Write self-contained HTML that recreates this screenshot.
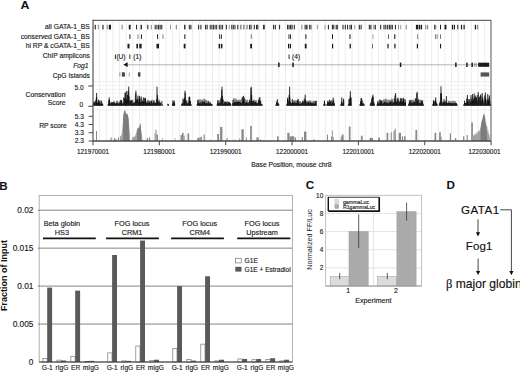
<!DOCTYPE html>
<html><head><meta charset="utf-8"><style>
html,body{margin:0;padding:0;background:#fff;}
body{width:520px;height:372px;overflow:hidden;}
svg{display:block;font-family:"Liberation Sans",sans-serif;}
</style></head><body>
<svg width="520" height="372" viewBox="0 0 520 372" font-family="Liberation Sans, sans-serif">
<rect width="520" height="372" fill="#fff"/>
<text x="20.6" y="9.3" font-size="11.8" text-anchor="start" fill="#111" font-weight="bold" transform="translate(-1.0,0) scale(1.05,1)">A</text>
<line x1="99.64" y1="20.3" x2="99.64" y2="141.3" stroke="#ededed" stroke-width="1.0"/>
<line x1="106.28" y1="20.3" x2="106.28" y2="141.3" stroke="#ededed" stroke-width="1.0"/>
<line x1="112.92" y1="20.3" x2="112.92" y2="141.3" stroke="#ededed" stroke-width="1.0"/>
<line x1="119.56" y1="20.3" x2="119.56" y2="141.3" stroke="#ededed" stroke-width="1.0"/>
<line x1="126.20" y1="20.3" x2="126.20" y2="141.3" stroke="#ededed" stroke-width="1.0"/>
<line x1="132.84" y1="20.3" x2="132.84" y2="141.3" stroke="#ededed" stroke-width="1.0"/>
<line x1="139.48" y1="20.3" x2="139.48" y2="141.3" stroke="#ededed" stroke-width="1.0"/>
<line x1="146.12" y1="20.3" x2="146.12" y2="141.3" stroke="#ededed" stroke-width="1.0"/>
<line x1="152.76" y1="20.3" x2="152.76" y2="141.3" stroke="#ededed" stroke-width="1.0"/>
<line x1="159.40" y1="20.3" x2="159.40" y2="141.3" stroke="#ededed" stroke-width="1.0"/>
<line x1="166.04" y1="20.3" x2="166.04" y2="141.3" stroke="#ededed" stroke-width="1.0"/>
<line x1="172.68" y1="20.3" x2="172.68" y2="141.3" stroke="#ededed" stroke-width="1.0"/>
<line x1="179.32" y1="20.3" x2="179.32" y2="141.3" stroke="#ededed" stroke-width="1.0"/>
<line x1="185.96" y1="20.3" x2="185.96" y2="141.3" stroke="#ededed" stroke-width="1.0"/>
<line x1="192.60" y1="20.3" x2="192.60" y2="141.3" stroke="#ededed" stroke-width="1.0"/>
<line x1="199.24" y1="20.3" x2="199.24" y2="141.3" stroke="#ededed" stroke-width="1.0"/>
<line x1="205.88" y1="20.3" x2="205.88" y2="141.3" stroke="#ededed" stroke-width="1.0"/>
<line x1="212.52" y1="20.3" x2="212.52" y2="141.3" stroke="#ededed" stroke-width="1.0"/>
<line x1="219.16" y1="20.3" x2="219.16" y2="141.3" stroke="#ededed" stroke-width="1.0"/>
<line x1="225.80" y1="20.3" x2="225.80" y2="141.3" stroke="#ededed" stroke-width="1.0"/>
<line x1="232.44" y1="20.3" x2="232.44" y2="141.3" stroke="#ededed" stroke-width="1.0"/>
<line x1="239.08" y1="20.3" x2="239.08" y2="141.3" stroke="#ededed" stroke-width="1.0"/>
<line x1="245.72" y1="20.3" x2="245.72" y2="141.3" stroke="#ededed" stroke-width="1.0"/>
<line x1="252.36" y1="20.3" x2="252.36" y2="141.3" stroke="#ededed" stroke-width="1.0"/>
<line x1="259.00" y1="20.3" x2="259.00" y2="141.3" stroke="#ededed" stroke-width="1.0"/>
<line x1="265.64" y1="20.3" x2="265.64" y2="141.3" stroke="#ededed" stroke-width="1.0"/>
<line x1="272.28" y1="20.3" x2="272.28" y2="141.3" stroke="#ededed" stroke-width="1.0"/>
<line x1="278.92" y1="20.3" x2="278.92" y2="141.3" stroke="#ededed" stroke-width="1.0"/>
<line x1="285.56" y1="20.3" x2="285.56" y2="141.3" stroke="#ededed" stroke-width="1.0"/>
<line x1="292.20" y1="20.3" x2="292.20" y2="141.3" stroke="#ededed" stroke-width="1.0"/>
<line x1="298.84" y1="20.3" x2="298.84" y2="141.3" stroke="#ededed" stroke-width="1.0"/>
<line x1="305.48" y1="20.3" x2="305.48" y2="141.3" stroke="#ededed" stroke-width="1.0"/>
<line x1="312.12" y1="20.3" x2="312.12" y2="141.3" stroke="#ededed" stroke-width="1.0"/>
<line x1="318.76" y1="20.3" x2="318.76" y2="141.3" stroke="#ededed" stroke-width="1.0"/>
<line x1="325.40" y1="20.3" x2="325.40" y2="141.3" stroke="#ededed" stroke-width="1.0"/>
<line x1="332.04" y1="20.3" x2="332.04" y2="141.3" stroke="#ededed" stroke-width="1.0"/>
<line x1="338.68" y1="20.3" x2="338.68" y2="141.3" stroke="#ededed" stroke-width="1.0"/>
<line x1="345.32" y1="20.3" x2="345.32" y2="141.3" stroke="#ededed" stroke-width="1.0"/>
<line x1="351.96" y1="20.3" x2="351.96" y2="141.3" stroke="#ededed" stroke-width="1.0"/>
<line x1="358.60" y1="20.3" x2="358.60" y2="141.3" stroke="#ededed" stroke-width="1.0"/>
<line x1="365.24" y1="20.3" x2="365.24" y2="141.3" stroke="#ededed" stroke-width="1.0"/>
<line x1="371.88" y1="20.3" x2="371.88" y2="141.3" stroke="#ededed" stroke-width="1.0"/>
<line x1="378.52" y1="20.3" x2="378.52" y2="141.3" stroke="#ededed" stroke-width="1.0"/>
<line x1="385.16" y1="20.3" x2="385.16" y2="141.3" stroke="#ededed" stroke-width="1.0"/>
<line x1="391.80" y1="20.3" x2="391.80" y2="141.3" stroke="#ededed" stroke-width="1.0"/>
<line x1="398.44" y1="20.3" x2="398.44" y2="141.3" stroke="#ededed" stroke-width="1.0"/>
<line x1="405.08" y1="20.3" x2="405.08" y2="141.3" stroke="#ededed" stroke-width="1.0"/>
<line x1="411.72" y1="20.3" x2="411.72" y2="141.3" stroke="#ededed" stroke-width="1.0"/>
<line x1="418.36" y1="20.3" x2="418.36" y2="141.3" stroke="#ededed" stroke-width="1.0"/>
<line x1="425.00" y1="20.3" x2="425.00" y2="141.3" stroke="#ededed" stroke-width="1.0"/>
<line x1="431.64" y1="20.3" x2="431.64" y2="141.3" stroke="#ededed" stroke-width="1.0"/>
<line x1="438.28" y1="20.3" x2="438.28" y2="141.3" stroke="#ededed" stroke-width="1.0"/>
<line x1="444.92" y1="20.3" x2="444.92" y2="141.3" stroke="#ededed" stroke-width="1.0"/>
<line x1="451.56" y1="20.3" x2="451.56" y2="141.3" stroke="#ededed" stroke-width="1.0"/>
<line x1="458.20" y1="20.3" x2="458.20" y2="141.3" stroke="#ededed" stroke-width="1.0"/>
<line x1="464.84" y1="20.3" x2="464.84" y2="141.3" stroke="#ededed" stroke-width="1.0"/>
<line x1="471.48" y1="20.3" x2="471.48" y2="141.3" stroke="#ededed" stroke-width="1.0"/>
<line x1="478.12" y1="20.3" x2="478.12" y2="141.3" stroke="#ededed" stroke-width="1.0"/>
<line x1="484.76" y1="20.3" x2="484.76" y2="141.3" stroke="#ededed" stroke-width="1.0"/>
<line x1="93.0" y1="85.5" x2="491.0" y2="85.5" stroke="#efefef" stroke-width="0.8"/>
<line x1="93.0" y1="89.4" x2="491.0" y2="89.4" stroke="#efefef" stroke-width="0.8"/>
<line x1="93.0" y1="93.3" x2="491.0" y2="93.3" stroke="#efefef" stroke-width="0.8"/>
<line x1="93.0" y1="97.2" x2="491.0" y2="97.2" stroke="#efefef" stroke-width="0.8"/>
<line x1="93.0" y1="101.1" x2="491.0" y2="101.1" stroke="#efefef" stroke-width="0.8"/>
<line x1="93.0" y1="81.6" x2="491.0" y2="81.6" stroke="#e8e8e8" stroke-width="0.8"/>
<line x1="93.0" y1="110" x2="491.0" y2="110" stroke="#e8e8e8" stroke-width="0.7"/>
<text x="89.8" y="28.8" font-size="6.75" text-anchor="end" fill="#222" stroke="#222" stroke-width="0.15" >all GATA-1_BS</text>
<text x="89.8" y="38.6" font-size="6.75" text-anchor="end" fill="#222" stroke="#222" stroke-width="0.15" >conserved GATA-1_BS</text>
<text x="89.8" y="48.4" font-size="6.75" text-anchor="end" fill="#222" stroke="#222" stroke-width="0.15" >hi RP &amp; cGATA-1_BS</text>
<text x="89.8" y="58.1" font-size="6.75" text-anchor="end" fill="#222" stroke="#222" stroke-width="0.15" >ChIP amplicons</text>
<text x="88.6" y="67.9" font-size="6.75" text-anchor="end" fill="#222" font-style="italic" stroke="#222" stroke-width="0.15" >Fog1</text>
<text x="89.8" y="77.5" font-size="6.75" text-anchor="end" fill="#222" stroke="#222" stroke-width="0.15" >CpG Islands</text>
<text x="65.4" y="96.8" font-size="6.75" text-anchor="end" fill="#222" stroke="#222" stroke-width="0.15" >Conservation</text>
<text x="65.4" y="104.6" font-size="6.75" text-anchor="end" fill="#222" stroke="#222" stroke-width="0.15" >Score</text>
<text x="66.8" y="128.3" font-size="6.75" text-anchor="end" fill="#222" stroke="#222" stroke-width="0.15" >RP score</text>
<text x="83.6" y="89.6" font-size="6.6" text-anchor="end" fill="#222" stroke="#222" stroke-width="0.15" >5.0</text>
<text x="83.2" y="106.9" font-size="6.6" text-anchor="end" fill="#222" stroke="#222" stroke-width="0.15" >0</text>
<text x="84.0" y="119.0" font-size="6.6" text-anchor="end" fill="#222" stroke="#222" stroke-width="0.15" >5.3</text>
<text x="84.0" y="127.0" font-size="6.6" text-anchor="end" fill="#222" stroke="#222" stroke-width="0.15" >4.3</text>
<text x="84.0" y="135.1" font-size="6.6" text-anchor="end" fill="#222" stroke="#222" stroke-width="0.15" >3.3</text>
<text x="84.0" y="143.2" font-size="6.6" text-anchor="end" fill="#222" stroke="#222" stroke-width="0.15" >2.3</text>
<line x1="88.2" y1="86.0" x2="93.0" y2="86.0" stroke="#333" stroke-width="0.9"/>
<line x1="88.2" y1="106.3" x2="93.0" y2="106.3" stroke="#333" stroke-width="0.9"/>
<line x1="88.6" y1="116.3" x2="93.0" y2="116.3" stroke="#333" stroke-width="0.9"/>
<line x1="88.6" y1="124.5" x2="93.0" y2="124.5" stroke="#333" stroke-width="0.9"/>
<line x1="88.6" y1="132.7" x2="93.0" y2="132.7" stroke="#333" stroke-width="0.9"/>
<line x1="88.6" y1="141.0" x2="93.0" y2="141.0" stroke="#333" stroke-width="0.9"/>
<rect x="94.70" y="24.8" width="1.1" height="4.60" fill="#1a1a1a" fill-opacity="1"/>
<rect x="97.80" y="24.8" width="0.9" height="4.60" fill="#1a1a1a" fill-opacity="0.55"/>
<rect x="102.40" y="24.8" width="1.1" height="4.60" fill="#1a1a1a" fill-opacity="1"/>
<rect x="106.80" y="24.8" width="0.9" height="4.60" fill="#1a1a1a" fill-opacity="0.55"/>
<rect x="108.80" y="24.8" width="2.2" height="4.60" fill="#1a1a1a" fill-opacity="1"/>
<rect x="121.60" y="24.8" width="1" height="4.60" fill="#1a1a1a" fill-opacity="0.6"/>
<rect x="128.80" y="24.8" width="1.8" height="4.60" fill="#1a1a1a" fill-opacity="1"/>
<rect x="136.10" y="24.8" width="1.0" height="4.60" fill="#1a1a1a" fill-opacity="1"/>
<rect x="140.60" y="24.8" width="1.3" height="4.60" fill="#1a1a1a" fill-opacity="1"/>
<rect x="147.30" y="24.8" width="1.0" height="4.60" fill="#1a1a1a" fill-opacity="1"/>
<rect x="150.80" y="24.8" width="0.9" height="4.60" fill="#1a1a1a" fill-opacity="0.6"/>
<rect x="154.70" y="24.8" width="1.0" height="4.60" fill="#1a1a1a" fill-opacity="1"/>
<rect x="156.40" y="24.8" width="1.1" height="4.60" fill="#1a1a1a" fill-opacity="0.9"/>
<rect x="158.00" y="24.8" width="1.1" height="4.60" fill="#1a1a1a" fill-opacity="0.9"/>
<rect x="159.60" y="24.8" width="1.1" height="4.60" fill="#1a1a1a" fill-opacity="0.9"/>
<rect x="161.20" y="24.8" width="1.1" height="4.60" fill="#1a1a1a" fill-opacity="0.9"/>
<rect x="170.10" y="24.8" width="0.9" height="4.60" fill="#1a1a1a" fill-opacity="0.5"/>
<rect x="175.80" y="24.8" width="1.0" height="4.60" fill="#1a1a1a" fill-opacity="0.6"/>
<rect x="184.10" y="24.8" width="1.3" height="4.60" fill="#1a1a1a" fill-opacity="1"/>
<rect x="188.80" y="24.8" width="1.0" height="4.60" fill="#1a1a1a" fill-opacity="1"/>
<rect x="190.40" y="24.8" width="1.0" height="4.60" fill="#1a1a1a" fill-opacity="1"/>
<rect x="198.10" y="24.8" width="1.0" height="4.60" fill="#1a1a1a" fill-opacity="1"/>
<rect x="200.40" y="24.8" width="1.0" height="4.60" fill="#1a1a1a" fill-opacity="1"/>
<rect x="205.00" y="24.8" width="1.1" height="4.60" fill="#1a1a1a" fill-opacity="0.9"/>
<rect x="206.60" y="24.8" width="1.1" height="4.60" fill="#1a1a1a" fill-opacity="0.9"/>
<rect x="209.70" y="24.8" width="1.1" height="4.60" fill="#1a1a1a" fill-opacity="0.85"/>
<rect x="211.30" y="24.8" width="1.1" height="4.60" fill="#1a1a1a" fill-opacity="0.85"/>
<rect x="212.90" y="24.8" width="1.1" height="4.60" fill="#1a1a1a" fill-opacity="0.85"/>
<rect x="214.50" y="24.8" width="1.1" height="4.60" fill="#1a1a1a" fill-opacity="0.85"/>
<rect x="216.10" y="24.8" width="1.1" height="4.60" fill="#1a1a1a" fill-opacity="0.85"/>
<rect x="218.80" y="24.8" width="1.1" height="4.60" fill="#1a1a1a" fill-opacity="0.85"/>
<rect x="220.40" y="24.8" width="1.1" height="4.60" fill="#1a1a1a" fill-opacity="0.85"/>
<rect x="222.00" y="24.8" width="1.1" height="4.60" fill="#1a1a1a" fill-opacity="0.85"/>
<rect x="225.80" y="24.8" width="1.0" height="4.60" fill="#1a1a1a" fill-opacity="1"/>
<rect x="228.80" y="24.8" width="0.9" height="4.60" fill="#1a1a1a" fill-opacity="0.5"/>
<rect x="231.20" y="24.8" width="1.1" height="4.60" fill="#1a1a1a" fill-opacity="0.85"/>
<rect x="232.80" y="24.8" width="1.1" height="4.60" fill="#1a1a1a" fill-opacity="0.85"/>
<rect x="234.40" y="24.8" width="1.1" height="4.60" fill="#1a1a1a" fill-opacity="0.85"/>
<rect x="237.30" y="24.8" width="1.0" height="4.60" fill="#1a1a1a" fill-opacity="1"/>
<rect x="240.40" y="24.8" width="1.0" height="4.60" fill="#1a1a1a" fill-opacity="0.8"/>
<rect x="243.40" y="24.8" width="1.0" height="4.60" fill="#1a1a1a" fill-opacity="0.8"/>
<rect x="246.50" y="24.8" width="1.0" height="4.60" fill="#1a1a1a" fill-opacity="0.7"/>
<rect x="248.90" y="24.8" width="1.0" height="4.60" fill="#1a1a1a" fill-opacity="0.6"/>
<rect x="249.30" y="24.8" width="1.0" height="4.60" fill="#1a1a1a" fill-opacity="0.9"/>
<rect x="250.60" y="24.8" width="1.0" height="4.60" fill="#1a1a1a" fill-opacity="0.9"/>
<rect x="253.80" y="24.8" width="1.0" height="4.60" fill="#1a1a1a" fill-opacity="1"/>
<rect x="256.10" y="24.8" width="1.0" height="4.60" fill="#1a1a1a" fill-opacity="1"/>
<rect x="257.30" y="24.8" width="1.0" height="4.60" fill="#1a1a1a" fill-opacity="1"/>
<rect x="263.10" y="24.8" width="1.6" height="4.60" fill="#1a1a1a" fill-opacity="1"/>
<rect x="273.10" y="24.8" width="1.0" height="4.60" fill="#1a1a1a" fill-opacity="1"/>
<rect x="274.80" y="24.8" width="1.0" height="4.60" fill="#1a1a1a" fill-opacity="1"/>
<rect x="279.10" y="24.8" width="1.0" height="4.60" fill="#1a1a1a" fill-opacity="1"/>
<rect x="287.00" y="24.8" width="1.1" height="4.60" fill="#1a1a1a" fill-opacity="0.9"/>
<rect x="288.50" y="24.8" width="1.1" height="4.60" fill="#1a1a1a" fill-opacity="0.9"/>
<rect x="290.00" y="24.8" width="1.1" height="4.60" fill="#1a1a1a" fill-opacity="0.9"/>
<rect x="291.50" y="24.8" width="1.1" height="4.60" fill="#1a1a1a" fill-opacity="0.9"/>
<rect x="293.80" y="24.8" width="1.0" height="4.60" fill="#1a1a1a" fill-opacity="1"/>
<rect x="301.40" y="24.8" width="1.0" height="4.60" fill="#1a1a1a" fill-opacity="0.6"/>
<rect x="304.60" y="24.8" width="1.0" height="4.60" fill="#1a1a1a" fill-opacity="1"/>
<rect x="306.20" y="24.8" width="1.3" height="4.60" fill="#1a1a1a" fill-opacity="1"/>
<rect x="309.20" y="24.8" width="1.0" height="4.60" fill="#1a1a1a" fill-opacity="1"/>
<rect x="310.60" y="24.8" width="0.8" height="4.60" fill="#1a1a1a" fill-opacity="1"/>
<rect x="316.80" y="24.8" width="1.0" height="4.60" fill="#1a1a1a" fill-opacity="0.45"/>
<rect x="324.50" y="24.8" width="1.0" height="4.60" fill="#1a1a1a" fill-opacity="0.45"/>
<rect x="327.90" y="24.8" width="1.0" height="4.60" fill="#1a1a1a" fill-opacity="1"/>
<rect x="331.90" y="24.8" width="1.0" height="4.60" fill="#1a1a1a" fill-opacity="1"/>
<rect x="333.30" y="24.8" width="1.0" height="4.60" fill="#1a1a1a" fill-opacity="1"/>
<rect x="335.70" y="24.8" width="1.0" height="4.60" fill="#1a1a1a" fill-opacity="1"/>
<rect x="337.20" y="24.8" width="0.8" height="4.60" fill="#1a1a1a" fill-opacity="1"/>
<rect x="342.50" y="24.8" width="1.0" height="4.60" fill="#1a1a1a" fill-opacity="1"/>
<rect x="344.80" y="24.8" width="1.0" height="4.60" fill="#1a1a1a" fill-opacity="1"/>
<rect x="347.10" y="24.8" width="1.0" height="4.60" fill="#1a1a1a" fill-opacity="1"/>
<rect x="349.50" y="24.8" width="1.0" height="4.60" fill="#1a1a1a" fill-opacity="1"/>
<rect x="350.90" y="24.8" width="1.0" height="4.60" fill="#1a1a1a" fill-opacity="1"/>
<rect x="354.30" y="24.8" width="1.0" height="4.60" fill="#1a1a1a" fill-opacity="0.45"/>
<rect x="358.80" y="24.8" width="1.0" height="4.60" fill="#1a1a1a" fill-opacity="1"/>
<rect x="360.60" y="24.8" width="1.0" height="4.60" fill="#1a1a1a" fill-opacity="1"/>
<rect x="368.80" y="24.8" width="1.1" height="4.60" fill="#1a1a1a" fill-opacity="0.9"/>
<rect x="370.30" y="24.8" width="1.1" height="4.60" fill="#1a1a1a" fill-opacity="0.9"/>
<rect x="373.50" y="24.8" width="1.0" height="4.60" fill="#1a1a1a" fill-opacity="0.8"/>
<rect x="375.00" y="24.8" width="1.0" height="4.60" fill="#1a1a1a" fill-opacity="0.8"/>
<rect x="380.20" y="24.8" width="1.0" height="4.60" fill="#1a1a1a" fill-opacity="1"/>
<rect x="383.50" y="24.8" width="1.0" height="4.60" fill="#1a1a1a" fill-opacity="1"/>
<rect x="385.30" y="24.8" width="1.0" height="4.60" fill="#1a1a1a" fill-opacity="1"/>
<rect x="387.20" y="24.8" width="1.0" height="4.60" fill="#1a1a1a" fill-opacity="1"/>
<rect x="388.80" y="24.8" width="1.1" height="4.60" fill="#1a1a1a" fill-opacity="0.9"/>
<rect x="390.30" y="24.8" width="1.1" height="4.60" fill="#1a1a1a" fill-opacity="0.9"/>
<rect x="391.80" y="24.8" width="1.1" height="4.60" fill="#1a1a1a" fill-opacity="0.9"/>
<rect x="394.90" y="24.8" width="1.0" height="4.60" fill="#1a1a1a" fill-opacity="1"/>
<rect x="398.00" y="24.8" width="0.9" height="4.60" fill="#1a1a1a" fill-opacity="0.5"/>
<rect x="400.30" y="24.8" width="0.9" height="4.60" fill="#1a1a1a" fill-opacity="0.5"/>
<rect x="405.80" y="24.8" width="0.9" height="4.60" fill="#1a1a1a" fill-opacity="0.6"/>
<rect x="415.90" y="24.8" width="2.3" height="4.60" fill="#1a1a1a" fill-opacity="1"/>
<rect x="418.80" y="24.8" width="1.2" height="4.60" fill="#1a1a1a" fill-opacity="1"/>
<rect x="420.60" y="24.8" width="1.5" height="4.60" fill="#1a1a1a" fill-opacity="1"/>
<rect x="425.30" y="24.8" width="1.1" height="4.60" fill="#1a1a1a" fill-opacity="0.55"/>
<rect x="427.20" y="24.8" width="1.0" height="4.60" fill="#1a1a1a" fill-opacity="0.55"/>
<rect x="434.00" y="24.8" width="1.0" height="4.60" fill="#1a1a1a" fill-opacity="0.8"/>
<rect x="435.40" y="24.8" width="0.8" height="4.60" fill="#1a1a1a" fill-opacity="0.8"/>
<rect x="440.00" y="24.8" width="1.0" height="4.60" fill="#1a1a1a" fill-opacity="1"/>
<rect x="444.50" y="24.8" width="1.9" height="4.60" fill="#1a1a1a" fill-opacity="1"/>
<rect x="451.90" y="24.8" width="1.2" height="4.60" fill="#1a1a1a" fill-opacity="1"/>
<rect x="453.80" y="24.8" width="1.2" height="4.60" fill="#1a1a1a" fill-opacity="1"/>
<rect x="457.30" y="24.8" width="1.0" height="4.60" fill="#1a1a1a" fill-opacity="1"/>
<rect x="460.90" y="24.8" width="1.2" height="4.60" fill="#1a1a1a" fill-opacity="1"/>
<rect x="463.50" y="24.8" width="1.2" height="4.60" fill="#1a1a1a" fill-opacity="1"/>
<rect x="474.80" y="24.8" width="1.3" height="4.60" fill="#1a1a1a" fill-opacity="1"/>
<rect x="477.00" y="24.8" width="1.2" height="4.60" fill="#1a1a1a" fill-opacity="0.5"/>
<rect x="129.40" y="34.3" width="1.0" height="4.60" fill="#1a1a1a" fill-opacity="1"/>
<rect x="137.50" y="34.3" width="0.9" height="4.60" fill="#1a1a1a" fill-opacity="0.6"/>
<rect x="140.90" y="34.3" width="1.0" height="4.60" fill="#1a1a1a" fill-opacity="1"/>
<rect x="157.10" y="34.3" width="1.0" height="4.60" fill="#1a1a1a" fill-opacity="1"/>
<rect x="162.50" y="34.3" width="0.9" height="4.60" fill="#1a1a1a" fill-opacity="0.6"/>
<rect x="184.30" y="34.3" width="1.0" height="4.60" fill="#1a1a1a" fill-opacity="1"/>
<rect x="219.20" y="34.3" width="0.9" height="4.60" fill="#1a1a1a" fill-opacity="1"/>
<rect x="220.90" y="34.3" width="0.9" height="4.60" fill="#1a1a1a" fill-opacity="1"/>
<rect x="250.70" y="34.3" width="1.0" height="4.60" fill="#1a1a1a" fill-opacity="0.6"/>
<rect x="288.50" y="34.3" width="0.9" height="4.60" fill="#1a1a1a" fill-opacity="1"/>
<rect x="290.00" y="34.3" width="0.9" height="4.60" fill="#1a1a1a" fill-opacity="1"/>
<rect x="305.40" y="34.3" width="1.0" height="4.60" fill="#1a1a1a" fill-opacity="1"/>
<rect x="332.00" y="34.3" width="1.0" height="4.60" fill="#1a1a1a" fill-opacity="1"/>
<rect x="349.50" y="34.3" width="1.0" height="4.60" fill="#1a1a1a" fill-opacity="1"/>
<rect x="372.60" y="34.3" width="0.9" height="4.60" fill="#1a1a1a" fill-opacity="0.45"/>
<rect x="388.00" y="34.3" width="1.0" height="4.60" fill="#1a1a1a" fill-opacity="0.7"/>
<rect x="394.20" y="34.3" width="1.1" height="4.60" fill="#1a1a1a" fill-opacity="1"/>
<rect x="417.20" y="34.3" width="0.9" height="4.60" fill="#1a1a1a" fill-opacity="0.6"/>
<rect x="435.10" y="34.3" width="0.9" height="4.60" fill="#1a1a1a" fill-opacity="0.6"/>
<rect x="436.60" y="34.3" width="0.9" height="4.60" fill="#1a1a1a" fill-opacity="0.6"/>
<rect x="440.00" y="34.3" width="1.0" height="4.60" fill="#1a1a1a" fill-opacity="0.6"/>
<rect x="127.50" y="43.8" width="2.0" height="4.60" fill="#1a1a1a" fill-opacity="1"/>
<rect x="136.40" y="43.8" width="1.6" height="4.60" fill="#1a1a1a" fill-opacity="1"/>
<rect x="139.30" y="43.8" width="2.3" height="4.60" fill="#1a1a1a" fill-opacity="1"/>
<rect x="156.50" y="43.8" width="2.5" height="4.60" fill="#1a1a1a" fill-opacity="1"/>
<rect x="183.70" y="43.8" width="1.8" height="4.60" fill="#1a1a1a" fill-opacity="1"/>
<rect x="218.60" y="43.8" width="1.5" height="4.60" fill="#1a1a1a" fill-opacity="1"/>
<rect x="220.90" y="43.8" width="1.5" height="4.60" fill="#1a1a1a" fill-opacity="1"/>
<rect x="250.20" y="43.8" width="1.8" height="4.60" fill="#1a1a1a" fill-opacity="1"/>
<rect x="288.00" y="43.8" width="1.2" height="4.60" fill="#1a1a1a" fill-opacity="1"/>
<rect x="289.80" y="43.8" width="1.2" height="4.60" fill="#1a1a1a" fill-opacity="1"/>
<rect x="304.80" y="43.8" width="1.8" height="4.60" fill="#1a1a1a" fill-opacity="1"/>
<rect x="332.00" y="43.8" width="1.2" height="4.60" fill="#1a1a1a" fill-opacity="1"/>
<rect x="349.60" y="43.8" width="1.3" height="4.60" fill="#1a1a1a" fill-opacity="1"/>
<rect x="372.00" y="43.8" width="0.9" height="4.60" fill="#1a1a1a" fill-opacity="0.7"/>
<rect x="387.40" y="43.8" width="1.2" height="4.60" fill="#1a1a1a" fill-opacity="1"/>
<rect x="394.30" y="43.8" width="1.2" height="4.60" fill="#1a1a1a" fill-opacity="1"/>
<rect x="416.80" y="43.8" width="1.2" height="4.60" fill="#1a1a1a" fill-opacity="1"/>
<rect x="440.00" y="43.8" width="1.1" height="4.60" fill="#1a1a1a" fill-opacity="1"/>
<rect x="114.90" y="54.4" width="0.9" height="4.60" fill="#1a1a1a" fill-opacity="1"/>
<rect x="129.40" y="54.4" width="0.9" height="4.60" fill="#1a1a1a" fill-opacity="1"/>
<rect x="288.60" y="54.4" width="0.9" height="4.60" fill="#1a1a1a" fill-opacity="1"/>
<text x="116.4" y="59.0" font-size="6.6" text-anchor="start" fill="#222" stroke="#222" stroke-width="0.15" >(U)</text>
<text x="133.3" y="59.0" font-size="6.6" text-anchor="start" fill="#222" stroke="#222" stroke-width="0.15" >(1)</text>
<text x="292.1" y="59.0" font-size="6.6" text-anchor="start" fill="#222" stroke="#222" stroke-width="0.15" >(4)</text>
<line x1="126.5" y1="64.8" x2="489" y2="64.8" stroke="#666" stroke-width="0.9" stroke-dasharray="1.1,0.9"/>
<polygon points="123.3,64.7 127.6,62.3 127.6,67.1" fill="#111"/>
<rect x="278.1" y="62.6" width="1.5" height="4.4" fill="#1a1a1a"/>
<rect x="292.3" y="62.6" width="1.5" height="4.4" fill="#1a1a1a"/>
<rect x="399.8" y="62.6" width="1.5" height="4.4" fill="#1a1a1a"/>
<rect x="455.1" y="62.6" width="1.5" height="4.4" fill="#1a1a1a"/>
<rect x="466.2" y="62.6" width="1.5" height="4.4" fill="#1a1a1a"/>
<rect x="471.4" y="62.6" width="1.5" height="4.4" fill="#1a1a1a"/>
<rect x="474.3" y="62.8" width="0.8" height="4" fill="#333" fill-opacity="0.6"/>
<rect x="475.8" y="62.8" width="0.8" height="4" fill="#333" fill-opacity="0.6"/>
<rect x="478.2" y="62.7" width="11.0" height="4.1" fill="#1a1a1a"/>
<rect x="119.40" y="72.3" width="1.0" height="4.30" fill="#222" fill-opacity="0.45"/>
<rect x="121.90" y="72.3" width="3.0" height="4.30" fill="#222" fill-opacity="0.85"/>
<rect x="128.80" y="72.3" width="0.9" height="4.30" fill="#222" fill-opacity="0.45"/>
<rect x="138.00" y="72.3" width="2.4" height="4.30" fill="#222" fill-opacity="0.85"/>
<rect x="480.6" y="72.4" width="8.6" height="4.2" fill="#555"/>
<polygon points="93.0,105.6 93.00,104.00 93.60,101.70 94.30,103.20 95.20,98.70 96.00,97.00 96.60,93.00 97.20,97.70 97.80,101.70 98.50,99.70 99.30,102.20 100.00,100.20 100.80,102.20 101.60,100.70 102.40,102.70 103.00,105.00 103.0,105.6" fill="#b8b8b8" fill-opacity="0.55"/>
<path d="M93.00 105.60V104.57M93.75 105.60V103.05M94.50 105.60V102.20M95.25 105.60V101.03M96.00 105.60V99.75M96.75 105.60V97.24M97.50 105.60V102.83M98.25 105.60V102.06M99.00 105.60V102.31M99.75 105.60V101.54M100.50 105.60V103.89M101.25 105.60V103.28M102.00 105.60V104.01M102.75 105.60V104.04M93.60 105.60V101.70M96.60 105.60V93.00M98.50 105.60V99.70M100.00 105.60V100.20M101.60 105.60V100.70" stroke="#000" stroke-width="0.8" fill="none"/>
<polygon points="93.0,105.6 93.00,104.00 93.60,104.52 94.20,102.99 94.80,102.67 95.40,103.29 96.00,103.37 96.60,104.29 97.20,104.57 97.80,103.54 98.40,104.48 99.00,104.22 99.60,104.12 100.20,104.54 100.80,103.67 101.40,103.72 102.00,102.92 102.60,103.56 103.0,105.6" fill="#1a1a1a"/>
<polygon points="108.0,105.6 108.00,104.00 108.50,97.70 109.20,97.50 110.00,99.70 110.60,102.70 112.00,102.20 113.00,103.00 114.00,101.20 115.00,102.70 116.00,101.70 117.00,100.70 118.00,102.70 119.00,101.70 120.00,101.20 121.00,99.70 122.00,101.70 122.80,98.70 123.60,98.00 124.40,95.00 125.20,92.50 126.00,94.00 126.70,91.00 127.40,92.00 128.00,89.50 128.70,86.60 129.30,90.00 130.00,94.50 130.60,97.70 131.20,100.20 132.00,99.70 133.00,100.70 134.00,98.70 134.70,97.00 135.30,94.00 135.90,90.70 136.50,93.00 137.20,96.00 138.00,95.50 138.80,97.50 139.60,96.00 140.40,98.00 141.20,96.50 142.00,97.50 142.80,97.70 143.60,97.50 144.40,98.70 145.20,97.70 146.00,100.20 147.00,101.20 148.00,99.70 149.00,101.70 150.00,100.70 151.00,102.20 152.00,99.70 153.00,101.70 154.00,100.20 155.00,101.70 155.80,98.70 156.40,94.00 157.00,86.70 157.60,92.00 158.20,97.00 158.80,98.20 159.60,98.70 160.40,101.20 161.20,104.00 161.2,105.6" fill="#b8b8b8" fill-opacity="0.55"/>
<path d="M108.00 105.60V104.37M108.75 105.60V100.22M109.50 105.60V99.92M110.25 105.60V102.59M111.00 105.60V103.98M111.75 105.60V102.29M112.50 105.60V102.60M113.25 105.60V102.55M114.00 105.60V102.04M114.75 105.60V103.78M115.50 105.60V103.90M116.25 105.60V103.37M117.00 105.60V103.66M117.75 105.60V102.72M118.50 105.60V103.53M119.25 105.60V101.58M120.00 105.60V102.95M120.75 105.60V100.08M121.50 105.60V100.70M122.25 105.60V103.91M123.00 105.60V102.16M123.75 105.60V97.44M124.50 105.60V98.45M125.25 105.60V92.59M126.00 105.60V98.54M126.75 105.60V99.83M127.50 105.60V94.96M128.25 105.60V90.93M129.00 105.60V96.51M129.75 105.60V100.43M130.50 105.60V100.83M131.25 105.60V100.17M132.00 105.60V100.63M132.75 105.60V103.40M133.50 105.60V102.59M134.25 105.60V102.48M135.00 105.60V101.67M135.75 105.60V93.38M136.50 105.60V99.73M137.25 105.60V98.73M138.00 105.60V99.13M138.75 105.60V101.70M139.50 105.60V97.83M140.25 105.60V102.13M141.00 105.60V98.90M141.75 105.60V102.02M142.50 105.60V100.63M143.25 105.60V101.69M144.00 105.60V101.66M144.75 105.60V98.26M145.50 105.60V98.64M146.25 105.60V102.78M147.00 105.60V101.20M147.75 105.60V102.91M148.50 105.60V102.63M149.25 105.60V101.45M150.00 105.60V101.84M150.75 105.60V104.03M151.50 105.60V100.95M152.25 105.60V102.96M153.00 105.60V103.58M153.75 105.60V101.32M154.50 105.60V102.98M155.25 105.60V102.98M156.00 105.60V102.23M156.75 105.60V99.12M157.50 105.60V95.04M158.25 105.60V101.28M159.00 105.60V100.21M159.75 105.60V101.80M160.50 105.60V102.99M109.20 105.60V97.50M112.00 105.60V102.20M114.00 105.60V101.20M117.00 105.60V100.70M121.00 105.60V99.70M125.20 105.60V92.50M126.70 105.60V91.00M128.70 105.60V86.60M132.00 105.60V99.70M135.90 105.60V90.70M138.00 105.60V95.50M139.60 105.60V96.00M141.20 105.60V96.50M143.60 105.60V97.50M145.20 105.60V97.70M148.00 105.60V99.70M150.00 105.60V100.70M152.00 105.60V99.70M154.00 105.60V100.20M157.00 105.60V86.70" stroke="#000" stroke-width="0.8" fill="none"/>
<polygon points="108.0,105.6 108.00,104.00 108.60,103.63 109.20,103.45 109.80,102.87 110.40,104.23 111.00,104.29 111.60,102.78 112.20,102.96 112.80,104.10 113.40,104.22 114.00,103.12 114.60,102.72 115.20,104.21 115.80,102.70 116.40,102.84 117.00,103.39 117.60,103.76 118.20,104.39 118.80,104.52 119.40,102.67 120.00,104.12 120.60,103.19 121.20,104.09 121.80,102.95 122.40,103.41 123.00,104.01 123.60,104.25 124.20,103.16 124.80,104.46 125.40,104.14 126.00,103.48 126.60,102.90 127.20,103.37 127.80,104.04 128.40,102.77 129.00,104.19 129.60,104.57 130.20,104.06 130.80,103.71 131.40,104.48 132.00,104.25 132.60,103.86 133.20,103.46 133.80,104.34 134.40,103.88 135.00,102.82 135.60,102.64 136.20,103.29 136.80,103.22 137.40,103.43 138.00,104.32 138.60,104.53 139.20,104.56 139.80,102.78 140.40,103.20 141.00,102.67 141.60,104.56 142.20,103.33 142.80,103.64 143.40,103.14 144.00,103.96 144.60,102.60 145.20,104.45 145.80,103.51 146.40,103.13 147.00,102.80 147.60,103.13 148.20,103.19 148.80,103.01 149.40,102.77 150.00,103.90 150.60,103.23 151.20,102.80 151.80,102.86 152.40,103.77 153.00,103.02 153.60,102.87 154.20,103.45 154.80,103.35 155.40,103.84 156.00,103.43 156.60,103.38 157.20,104.44 157.80,103.32 158.40,102.61 159.00,102.84 159.60,103.14 160.20,103.82 160.80,103.13 161.2,105.6" fill="#1a1a1a"/>
<polygon points="161.8,105.6 161.80,99.50 162.60,104.50 162.6,105.6" fill="#b8b8b8" fill-opacity="0.55"/>
<path d="M161.80 105.60V101.16M162.55 105.60V104.60" stroke="#000" stroke-width="0.8" fill="none"/>
<polygon points="161.8,105.6 161.80,102.92 162.40,104.43 162.6,105.6" fill="#1a1a1a"/>
<polygon points="167.8,105.6 167.80,103.50 168.60,104.50 168.6,105.6" fill="#b8b8b8" fill-opacity="0.55"/>
<path d="M167.80 105.60V103.84M168.55 105.60V104.60" stroke="#000" stroke-width="0.8" fill="none"/>
<polygon points="167.8,105.6 167.80,103.50 168.40,104.25 168.6,105.6" fill="#1a1a1a"/>
<polygon points="172.4,105.6 172.40,103.00 173.00,100.20 173.60,102.20 174.30,100.70 175.00,104.50 175.0,105.6" fill="#b8b8b8" fill-opacity="0.55"/>
<path d="M172.40 105.60V104.30M173.15 105.60V101.66M173.90 105.60V102.88M174.65 105.60V103.35M173.00 105.60V100.20M174.30 105.60V100.70" stroke="#000" stroke-width="0.8" fill="none"/>
<polygon points="172.4,105.6 172.40,103.00 173.00,104.09 173.60,104.58 174.20,104.00 174.80,103.41 175.0,105.6" fill="#1a1a1a"/>
<polygon points="181.5,105.6 181.50,104.00 182.30,99.70 183.00,98.50 183.80,98.20 184.60,93.00 185.00,90.70 185.50,95.00 186.20,97.70 187.00,99.70 188.00,101.70 188.80,97.70 189.40,96.50 190.00,97.70 190.60,101.70 191.40,104.50 191.4,105.6" fill="#b8b8b8" fill-opacity="0.55"/>
<path d="M181.50 105.60V104.60M182.25 105.60V103.01M183.00 105.60V98.50M183.75 105.60V99.85M184.50 105.60V97.98M185.25 105.60V92.85M186.00 105.60V100.72M186.75 105.60V100.49M187.50 105.60V103.25M188.25 105.60V102.36M189.00 105.60V97.30M189.75 105.60V97.20M190.50 105.60V101.03M191.25 105.60V104.60M185.00 105.60V90.70M189.40 105.60V96.50" stroke="#000" stroke-width="0.8" fill="none"/>
<polygon points="181.5,105.6 181.50,104.00 182.10,103.97 182.70,104.33 183.30,103.61 183.90,102.93 184.50,102.90 185.10,103.18 185.70,102.70 186.30,104.05 186.90,104.26 187.50,103.70 188.10,104.05 188.70,104.17 189.30,103.77 189.90,103.35 190.50,103.61 191.10,103.97 191.4,105.6" fill="#1a1a1a"/>
<polygon points="197.2,105.6 197.20,104.00 198.00,99.70 199.00,101.70 200.00,99.20 201.00,102.20 202.00,99.70 203.00,101.70 204.00,98.70 205.00,101.20 206.00,99.70 207.00,102.20 208.00,100.70 209.00,102.70 210.00,101.70 211.00,103.20 212.50,104.50 212.5,105.6" fill="#b8b8b8" fill-opacity="0.55"/>
<path d="M197.20 105.60V104.00M197.95 105.60V99.97M198.70 105.60V102.70M199.45 105.60V103.60M200.20 105.60V103.45M200.95 105.60V102.05M201.70 105.60V103.66M202.45 105.60V101.55M203.20 105.60V102.36M203.95 105.60V101.88M204.70 105.60V101.15M205.45 105.60V103.76M206.20 105.60V103.23M206.95 105.60V103.32M207.70 105.60V103.97M208.45 105.60V101.60M209.20 105.60V104.04M209.95 105.60V103.90M210.70 105.60V104.52M211.45 105.60V104.07M212.20 105.60V104.60M198.00 105.60V99.70M200.00 105.60V99.20M202.00 105.60V99.70M204.00 105.60V98.70M206.00 105.60V99.70M208.00 105.60V100.70M210.00 105.60V101.70" stroke="#000" stroke-width="0.8" fill="none"/>
<polygon points="197.2,105.6 197.20,104.00 197.80,103.29 198.40,102.99 199.00,102.68 199.60,103.23 200.20,104.20 200.80,103.65 201.40,104.24 202.00,104.58 202.60,103.66 203.20,103.17 203.80,104.24 204.40,104.06 205.00,103.91 205.60,103.21 206.20,103.56 206.80,103.37 207.40,103.09 208.00,103.81 208.60,103.02 209.20,102.79 209.80,104.43 210.40,102.73 211.00,103.20 211.60,104.34 212.20,104.24 212.5,105.6" fill="#1a1a1a"/>
<polygon points="217.2,105.6 217.20,103.00 218.00,100.20 219.00,101.70 220.00,100.70 220.80,97.70 221.40,93.00 222.00,86.70 222.60,92.00 223.20,97.70 224.00,102.20 225.00,101.20 226.00,102.70 227.00,101.20 228.00,102.70 229.00,101.70 230.00,103.20 231.00,103.50 231.0,105.6" fill="#b8b8b8" fill-opacity="0.55"/>
<path d="M217.20 105.60V103.63M217.95 105.60V100.38M218.70 105.60V103.01M219.45 105.60V102.47M220.20 105.60V99.95M220.95 105.60V97.72M221.70 105.60V89.85M222.45 105.60V95.88M223.20 105.60V99.49M223.95 105.60V103.82M224.70 105.60V102.24M225.45 105.60V101.87M226.20 105.60V103.15M226.95 105.60V102.07M227.70 105.60V103.96M228.45 105.60V102.25M229.20 105.60V102.00M229.95 105.60V103.12M230.70 105.60V104.07M218.00 105.60V100.20M222.00 105.60V86.70M225.00 105.60V101.20M227.00 105.60V101.20M229.00 105.60V101.70" stroke="#000" stroke-width="0.8" fill="none"/>
<polygon points="217.2,105.6 217.20,103.02 217.80,103.96 218.40,102.78 219.00,102.89 219.60,103.90 220.20,104.43 220.80,103.72 221.40,103.50 222.00,103.06 222.60,103.63 223.20,104.54 223.80,102.98 224.40,104.47 225.00,103.00 225.60,104.25 226.20,103.93 226.80,103.02 227.40,104.32 228.00,104.30 228.60,103.57 229.20,103.15 229.80,102.92 230.40,103.32 231.00,103.50 231.0,105.6" fill="#1a1a1a"/>
<polygon points="232.2,105.6 232.20,104.00 233.00,99.70 234.00,98.20 235.00,100.70 236.00,98.70 237.00,101.70 238.00,99.70 239.00,101.70 240.00,99.70 241.00,101.20 242.00,98.20 242.80,96.50 243.60,95.80 244.40,98.00 245.20,99.70 246.00,101.70 247.00,99.70 248.00,101.70 249.00,100.20 249.80,96.00 250.50,90.00 251.20,86.70 251.80,91.00 252.40,97.70 253.00,101.20 254.00,99.70 255.00,101.70 256.00,100.20 257.00,102.20 258.00,100.70 259.00,98.70 259.80,97.00 260.60,97.70 261.40,102.20 262.40,104.50 262.4,105.6" fill="#b8b8b8" fill-opacity="0.55"/>
<path d="M232.20 105.60V104.53M232.95 105.60V99.97M233.70 105.60V102.78M234.45 105.60V102.50M235.20 105.60V101.93M235.95 105.60V101.94M236.70 105.60V101.65M237.45 105.60V101.93M238.20 105.60V101.81M238.95 105.60V101.60M239.70 105.60V101.82M240.45 105.60V102.71M241.20 105.60V102.61M241.95 105.60V98.35M242.70 105.60V96.71M243.45 105.60V100.91M244.20 105.60V97.45M244.95 105.60V99.17M245.70 105.60V102.39M246.45 105.60V102.13M247.20 105.60V102.96M247.95 105.60V102.81M248.70 105.60V102.25M249.45 105.60V99.83M250.20 105.60V100.80M250.95 105.60V87.88M251.70 105.60V95.10M252.45 105.60V100.96M253.20 105.60V100.90M253.95 105.60V101.43M254.70 105.60V102.59M255.45 105.60V101.94M256.20 105.60V103.64M256.95 105.60V103.15M257.70 105.60V102.85M258.45 105.60V99.80M259.20 105.60V98.28M259.95 105.60V101.15M260.70 105.60V100.78M261.45 105.60V104.18M262.20 105.60V104.60M234.00 105.60V98.20M236.00 105.60V98.70M238.00 105.60V99.70M240.00 105.60V99.70M243.60 105.60V95.80M247.00 105.60V99.70M251.20 105.60V86.70M254.00 105.60V99.70M256.00 105.60V100.20M259.80 105.60V97.00" stroke="#000" stroke-width="0.8" fill="none"/>
<polygon points="232.2,105.6 232.20,104.00 232.80,102.80 233.40,103.65 234.00,103.97 234.60,104.22 235.20,103.36 235.80,102.75 236.40,104.34 237.00,103.04 237.60,104.55 238.20,104.21 238.80,104.15 239.40,103.23 240.00,103.96 240.60,103.89 241.20,103.36 241.80,104.39 242.40,103.14 243.00,104.35 243.60,103.58 244.20,104.10 244.80,104.20 245.40,103.54 246.00,103.73 246.60,103.85 247.20,103.77 247.80,103.54 248.40,104.28 249.00,104.19 249.60,103.34 250.20,103.32 250.80,103.54 251.40,102.90 252.00,103.38 252.60,102.89 253.20,104.13 253.80,103.12 254.40,102.98 255.00,102.79 255.60,103.97 256.20,103.97 256.80,102.75 257.40,104.16 258.00,102.60 258.60,102.82 259.20,104.33 259.80,104.12 260.40,103.15 261.00,104.08 261.60,104.41 262.20,104.04 262.4,105.6" fill="#1a1a1a"/>
<polygon points="275.8,105.6 275.80,104.00 276.60,100.70 277.40,99.20 278.20,101.70 279.00,104.50 279.0,105.6" fill="#b8b8b8" fill-opacity="0.55"/>
<path d="M275.80 105.60V104.60M276.55 105.60V101.55M277.30 105.60V102.92M278.05 105.60V102.93M278.80 105.60V104.17M277.40 105.60V99.20" stroke="#000" stroke-width="0.8" fill="none"/>
<polygon points="275.8,105.6 275.80,104.56 276.40,104.20 277.00,103.24 277.60,102.78 278.20,102.66 278.80,104.37 279.0,105.6" fill="#1a1a1a"/>
<polygon points="286.8,105.6 286.80,103.50 287.60,97.70 288.40,98.20 289.00,93.00 289.60,86.70 290.20,93.00 290.80,98.20 291.60,100.20 292.40,99.20 293.20,101.70 294.00,100.20 295.00,102.20 296.00,100.20 297.00,101.70 298.00,99.20 299.00,102.20 300.00,101.20 301.00,102.70 302.00,101.20 303.00,99.20 304.00,97.70 304.60,96.00 305.20,94.70 305.80,98.00 306.40,100.20 307.20,102.20 308.00,100.70 309.00,102.70 310.00,100.20 311.00,102.70 312.00,101.20 313.00,103.20 314.00,100.70 315.00,102.20 316.00,100.70 316.70,104.50 316.7,105.6" fill="#b8b8b8" fill-opacity="0.55"/>
<path d="M286.80 105.60V104.17M287.55 105.60V99.25M288.30 105.60V100.55M289.05 105.60V95.16M289.80 105.60V97.66M290.55 105.60V101.81M291.30 105.60V103.02M292.05 105.60V103.37M292.80 105.60V101.95M293.55 105.60V102.48M294.30 105.60V102.15M295.05 105.60V104.04M295.80 105.60V103.25M296.55 105.60V103.39M297.30 105.60V100.95M298.05 105.60V99.35M298.80 105.60V101.60M299.55 105.60V103.97M300.30 105.60V104.06M301.05 105.60V102.62M301.80 105.60V102.93M302.55 105.60V100.94M303.30 105.60V101.75M304.05 105.60V100.34M304.80 105.60V98.73M305.55 105.60V99.95M306.30 105.60V101.33M307.05 105.60V104.25M307.80 105.60V101.95M308.55 105.60V101.80M309.30 105.60V103.89M310.05 105.60V102.20M310.80 105.60V102.78M311.55 105.60V103.31M312.30 105.60V103.79M313.05 105.60V104.45M313.80 105.60V102.59M314.55 105.60V104.13M315.30 105.60V101.75M316.05 105.60V100.97M287.60 105.60V97.70M289.60 105.60V86.70M292.40 105.60V99.20M294.00 105.60V100.20M296.00 105.60V100.20M298.00 105.60V99.20M300.00 105.60V101.20M305.20 105.60V94.70M308.00 105.60V100.70M310.00 105.60V100.20M312.00 105.60V101.20M314.00 105.60V100.70M316.00 105.60V100.70" stroke="#000" stroke-width="0.8" fill="none"/>
<polygon points="286.8,105.6 286.80,103.50 287.40,102.88 288.00,103.34 288.60,103.79 289.20,103.40 289.80,103.59 290.40,102.63 291.00,102.99 291.60,104.08 292.20,102.78 292.80,103.11 293.40,103.04 294.00,102.97 294.60,103.79 295.20,102.81 295.80,102.84 296.40,103.21 297.00,103.07 297.60,103.07 298.20,103.79 298.80,103.15 299.40,104.46 300.00,103.92 300.60,103.66 301.20,104.58 301.80,103.89 302.40,103.32 303.00,103.35 303.60,104.14 304.20,102.71 304.80,103.27 305.40,103.92 306.00,103.28 306.60,103.46 307.20,103.53 307.80,103.82 308.40,102.60 309.00,103.32 309.60,103.20 310.20,103.08 310.80,102.64 311.40,104.55 312.00,103.37 312.60,103.12 313.20,104.09 313.80,103.80 314.40,104.50 315.00,104.21 315.60,103.85 316.20,104.40 316.7,105.6" fill="#1a1a1a"/>
<polygon points="323.7,105.6 323.70,104.00 324.50,100.70 325.30,104.50 325.3,105.6" fill="#b8b8b8" fill-opacity="0.55"/>
<path d="M323.70 105.60V104.60M324.45 105.60V100.91M325.20 105.60V104.49M324.50 105.60V100.70" stroke="#000" stroke-width="0.8" fill="none"/>
<polygon points="323.7,105.6 323.70,104.00 324.30,102.67 324.90,103.46 325.3,105.6" fill="#1a1a1a"/>
<polygon points="326.9,105.6 326.90,104.00 327.80,100.70 328.60,102.20 329.40,99.70 330.20,101.70 331.00,100.20 332.00,101.20 332.60,98.20 333.20,97.70 333.80,98.20 334.50,101.20 335.00,104.50 335.0,105.6" fill="#b8b8b8" fill-opacity="0.55"/>
<path d="M326.90 105.60V104.00M327.65 105.60V102.27M328.40 105.60V101.82M329.15 105.60V103.55M329.90 105.60V102.17M330.65 105.60V101.60M331.40 105.60V103.70M332.15 105.60V100.45M332.90 105.60V102.13M333.65 105.60V100.66M334.40 105.60V103.38M327.80 105.60V100.70M329.40 105.60V99.70M331.00 105.60V100.20M333.20 105.60V97.70" stroke="#000" stroke-width="0.8" fill="none"/>
<polygon points="326.9,105.6 326.90,104.00 327.50,103.38 328.10,104.48 328.70,102.71 329.30,103.76 329.90,103.55 330.50,103.40 331.10,103.87 331.70,104.03 332.30,103.29 332.90,103.48 333.50,104.03 334.10,103.17 334.70,104.01 335.0,105.6" fill="#1a1a1a"/>
<polygon points="340.7,105.6 340.70,104.50 341.20,98.70 341.80,97.50 342.40,97.70 343.00,100.70 343.60,98.70 344.20,104.50 344.2,105.6" fill="#b8b8b8" fill-opacity="0.55"/>
<path d="M340.70 105.60V104.60M341.45 105.60V101.83M342.20 105.60V102.59M342.95 105.60V103.27M343.70 105.60V100.61M341.80 105.60V97.50M343.60 105.60V98.70" stroke="#000" stroke-width="0.8" fill="none"/>
<polygon points="340.7,105.6 340.70,104.50 341.30,102.80 341.90,103.10 342.50,104.50 343.10,102.62 343.70,102.71 344.2,105.6" fill="#1a1a1a"/>
<polygon points="348.2,105.6 348.20,104.50 348.80,99.70 349.40,97.00 349.90,93.00 350.30,91.20 350.80,94.00 351.20,97.70 351.70,104.50 351.7,105.6" fill="#b8b8b8" fill-opacity="0.55"/>
<path d="M348.20 105.60V104.60M348.95 105.60V99.03M349.70 105.60V98.68M350.45 105.60V96.64M351.20 105.60V97.70M350.30 105.60V91.20" stroke="#000" stroke-width="0.8" fill="none"/>
<polygon points="348.2,105.6 348.20,104.50 348.80,103.55 349.40,102.73 350.00,103.15 350.60,103.66 351.20,102.64 351.7,105.6" fill="#1a1a1a"/>
<polygon points="359.8,105.6 359.80,104.50 360.40,100.70 361.00,98.20 361.60,98.20 362.20,98.70 362.80,101.20 363.60,101.70 364.40,104.50 364.4,105.6" fill="#b8b8b8" fill-opacity="0.55"/>
<path d="M359.80 105.60V104.50M360.55 105.60V101.50M361.30 105.60V102.46M362.05 105.60V100.29M362.80 105.60V102.76M363.55 105.60V103.70M364.30 105.60V104.60M361.00 105.60V98.20M361.60 105.60V98.20" stroke="#000" stroke-width="0.8" fill="none"/>
<polygon points="359.8,105.6 359.80,104.50 360.40,104.35 361.00,103.71 361.60,103.26 362.20,103.69 362.80,104.08 363.40,103.44 364.00,103.76 364.4,105.6" fill="#1a1a1a"/>
<polygon points="370.1,105.6 370.10,104.50 370.80,101.20 371.60,98.70 372.30,96.50 373.00,94.70 373.70,98.50 374.20,100.70 374.70,104.50 374.7,105.6" fill="#b8b8b8" fill-opacity="0.55"/>
<path d="M370.10 105.60V104.60M370.85 105.60V102.43M371.60 105.60V98.70M372.35 105.60V96.37M373.10 105.60V97.03M373.85 105.60V102.35M374.60 105.60V104.60M373.00 105.60V94.70" stroke="#000" stroke-width="0.8" fill="none"/>
<polygon points="370.1,105.6 370.10,104.50 370.70,103.03 371.30,103.35 371.90,103.88 372.50,104.06 373.10,103.23 373.70,103.47 374.30,103.42 374.7,105.6" fill="#1a1a1a"/>
<polygon points="377.0,105.6 377.00,104.00 378.00,100.70 379.00,102.20 380.00,99.70 381.00,101.70 382.00,100.20 383.00,102.20 384.00,99.20 385.00,101.20 386.00,98.70 387.00,101.70 388.00,99.70 389.00,102.20 390.00,99.70 391.00,100.70 392.00,98.70 393.00,101.70 394.00,97.70 394.80,96.00 395.60,93.00 396.40,96.50 397.20,98.70 398.00,97.70 398.80,100.20 399.60,98.70 400.40,98.00 401.20,99.70 402.00,98.20 402.80,100.20 403.60,97.70 404.40,101.20 405.20,99.20 406.20,104.50 406.2,105.6" fill="#b8b8b8" fill-opacity="0.55"/>
<path d="M377.00 105.60V104.38M377.75 105.60V102.18M378.50 105.60V103.64M379.25 105.60V103.54M380.00 105.60V99.70M380.75 105.60V101.20M381.50 105.60V100.95M382.25 105.60V103.76M383.00 105.60V104.28M383.75 105.60V102.63M384.50 105.60V102.22M385.25 105.60V101.81M386.00 105.60V102.73M386.75 105.60V102.34M387.50 105.60V103.65M388.25 105.60V103.46M389.00 105.60V102.92M389.75 105.60V101.87M390.50 105.60V101.49M391.25 105.60V102.40M392.00 105.60V101.04M392.75 105.60V103.34M393.50 105.60V102.22M394.25 105.60V98.57M395.00 105.60V95.25M395.75 105.60V100.84M396.50 105.60V101.82M397.25 105.60V98.64M398.00 105.60V99.63M398.75 105.60V100.88M399.50 105.60V102.32M400.25 105.60V100.93M401.00 105.60V102.33M401.75 105.60V98.67M402.50 105.60V101.97M403.25 105.60V100.33M404.00 105.60V99.45M404.75 105.60V102.64M405.50 105.60V102.20M378.00 105.60V100.70M380.00 105.60V99.70M382.00 105.60V100.20M384.00 105.60V99.20M386.00 105.60V98.70M388.00 105.60V99.70M390.00 105.60V99.70M392.00 105.60V98.70M395.60 105.60V93.00M398.00 105.60V97.70M400.40 105.60V98.00M402.00 105.60V98.20M403.60 105.60V97.70M405.20 105.60V99.20" stroke="#000" stroke-width="0.8" fill="none"/>
<polygon points="377.0,105.6 377.00,104.00 377.60,102.76 378.20,103.74 378.80,103.86 379.40,104.41 380.00,102.85 380.60,104.44 381.20,104.43 381.80,103.47 382.40,103.63 383.00,103.23 383.60,104.00 384.20,103.05 384.80,104.45 385.40,104.17 386.00,103.28 386.60,104.44 387.20,103.99 387.80,103.15 388.40,103.21 389.00,104.03 389.60,104.31 390.20,103.88 390.80,103.15 391.40,103.87 392.00,104.37 392.60,103.18 393.20,103.46 393.80,102.76 394.40,102.72 395.00,102.77 395.60,103.72 396.20,102.99 396.80,103.99 397.40,103.96 398.00,103.80 398.60,102.73 399.20,102.81 399.80,104.10 400.40,103.88 401.00,103.87 401.60,103.87 402.20,103.81 402.80,103.82 403.40,104.21 404.00,103.47 404.60,103.01 405.20,103.52 405.80,102.93 406.2,105.6" fill="#1a1a1a"/>
<polygon points="408.5,105.6 408.50,104.00 409.40,100.20 410.20,101.70 411.00,99.70 412.00,102.20 413.00,99.70 414.00,101.20 415.00,99.20 415.80,97.00 416.50,94.00 417.20,91.80 417.90,95.50 418.60,97.70 419.40,99.70 420.20,100.70 421.00,99.70 421.80,101.70 422.60,100.20 423.50,104.50 423.5,105.6" fill="#b8b8b8" fill-opacity="0.55"/>
<path d="M408.50 105.60V104.45M409.25 105.60V103.38M410.00 105.60V101.99M410.75 105.60V100.32M411.50 105.60V103.12M412.25 105.60V104.13M413.00 105.60V101.56M413.75 105.60V102.24M414.50 105.60V101.72M415.25 105.60V98.51M416.00 105.60V98.29M416.75 105.60V93.21M417.50 105.60V100.82M418.25 105.60V99.25M419.00 105.60V99.65M419.75 105.60V103.39M420.50 105.60V103.47M421.25 105.60V101.23M422.00 105.60V101.33M422.75 105.60V103.70M423.50 105.60V104.60M409.40 105.60V100.20M411.00 105.60V99.70M413.00 105.60V99.70M417.20 105.60V91.80M421.00 105.60V99.70M422.60 105.60V100.20" stroke="#000" stroke-width="0.8" fill="none"/>
<polygon points="408.5,105.6 408.50,104.31 409.10,103.11 409.70,103.30 410.30,104.11 410.90,104.16 411.50,103.07 412.10,103.56 412.70,103.07 413.30,103.81 413.90,103.92 414.50,102.66 415.10,103.26 415.70,103.61 416.30,103.53 416.90,103.16 417.50,103.18 418.10,102.77 418.70,103.78 419.30,102.95 419.90,103.27 420.50,102.89 421.10,102.99 421.70,102.93 422.30,102.82 422.90,102.68 423.50,105.60 423.5,105.6" fill="#1a1a1a"/>
<polygon points="432.7,105.6 432.70,104.00 433.50,100.20 434.30,101.70 435.00,98.20 435.70,97.50 436.40,99.70 437.40,104.50 437.4,105.6" fill="#b8b8b8" fill-opacity="0.55"/>
<path d="M432.70 105.60V104.50M433.45 105.60V101.41M434.20 105.60V101.51M434.95 105.60V101.14M435.70 105.60V100.55M436.45 105.60V103.08M437.20 105.60V103.89M433.50 105.60V100.20M435.70 105.60V97.50" stroke="#000" stroke-width="0.8" fill="none"/>
<polygon points="432.7,105.6 432.70,104.00 433.30,103.85 433.90,104.26 434.50,104.19 435.10,103.75 435.70,104.02 436.30,102.66 436.90,104.48 437.4,105.6" fill="#1a1a1a"/>
<polygon points="439.2,105.6 439.20,104.00 439.80,98.70 440.40,93.00 441.00,86.30 441.60,93.00 442.20,97.70 443.00,100.70 444.00,99.20 445.00,101.70 445.80,98.20 446.40,96.10 447.00,98.70 448.00,101.70 449.00,100.70 450.00,102.70 451.00,101.20 452.00,102.70 453.00,100.70 454.00,102.70 455.00,101.20 456.00,102.70 457.30,104.50 457.3,105.6" fill="#b8b8b8" fill-opacity="0.55"/>
<path d="M439.20 105.60V104.60M439.95 105.60V102.06M440.70 105.60V93.30M441.45 105.60V93.40M442.20 105.60V101.91M442.95 105.60V103.61M443.70 105.60V101.74M444.45 105.60V101.75M445.20 105.60V100.83M445.95 105.60V102.64M446.70 105.60V102.15M447.45 105.60V102.99M448.20 105.60V103.59M448.95 105.60V103.16M449.70 105.60V102.74M450.45 105.60V102.97M451.20 105.60V103.57M451.95 105.60V104.20M452.70 105.60V103.31M453.45 105.60V103.75M454.20 105.60V102.90M454.95 105.60V103.21M455.70 105.60V103.23M456.45 105.60V103.32M457.20 105.60V104.60M441.00 105.60V86.30M444.00 105.60V99.20M446.40 105.60V96.10M449.00 105.60V100.70M451.00 105.60V101.20M453.00 105.60V100.70M455.00 105.60V101.20" stroke="#000" stroke-width="0.8" fill="none"/>
<polygon points="439.2,105.6 439.20,104.08 439.80,102.83 440.40,102.77 441.00,103.92 441.60,103.51 442.20,102.69 442.80,103.63 443.40,104.16 444.00,104.50 444.60,102.70 445.20,103.00 445.80,103.83 446.40,103.54 447.00,103.57 447.60,104.05 448.20,102.62 448.80,103.28 449.40,104.12 450.00,104.58 450.60,103.65 451.20,103.86 451.80,103.01 452.40,103.17 453.00,103.39 453.60,104.29 454.20,104.29 454.80,103.96 455.40,104.08 456.00,102.86 456.60,103.57 457.20,104.36 457.3,105.6" fill="#1a1a1a"/>
<polygon points="463.7,105.6 463.70,104.50 464.50,100.70 465.30,102.20 466.10,99.70 466.80,97.00 467.40,95.00 468.00,97.70 468.60,101.70 469.40,99.70 470.20,98.00 471.00,95.00 471.80,97.00 472.60,94.00 473.40,96.50 474.20,93.50 475.00,97.00 475.80,95.50 476.60,97.70 477.40,96.00 478.20,92.00 479.00,95.00 479.80,98.00 480.60,94.50 481.40,97.00 482.20,93.00 483.00,96.50 483.80,98.20 484.60,96.00 485.40,92.50 486.20,95.00 487.00,98.00 487.80,94.00 488.60,97.50 489.40,95.50 490.20,98.70 490.80,104.50 490.8,105.6" fill="#b8b8b8" fill-opacity="0.55"/>
<path d="M463.70 105.60V104.50M464.45 105.60V103.16M465.20 105.60V103.10M465.95 105.60V103.17M466.70 105.60V98.61M467.45 105.60V101.96M468.20 105.60V99.03M468.95 105.60V100.83M469.70 105.60V99.06M470.45 105.60V102.15M471.20 105.60V100.29M471.95 105.60V98.13M472.70 105.60V100.94M473.45 105.60V99.45M474.20 105.60V97.68M474.95 105.60V96.78M475.70 105.60V98.35M476.45 105.60V97.29M477.20 105.60V100.58M477.95 105.60V94.94M478.70 105.60V98.32M479.45 105.60V96.69M480.20 105.60V101.77M480.95 105.60V95.59M481.70 105.60V100.70M482.45 105.60V97.51M483.20 105.60V99.60M483.95 105.60V102.07M484.70 105.60V95.56M485.45 105.60V98.45M486.20 105.60V99.75M486.95 105.60V102.49M487.70 105.60V99.51M488.45 105.60V99.88M489.20 105.60V97.78M489.95 105.60V100.99M490.70 105.60V103.95M464.50 105.60V100.70M467.40 105.60V95.00M471.00 105.60V95.00M472.60 105.60V94.00M474.20 105.60V93.50M475.80 105.60V95.50M478.20 105.60V92.00M480.60 105.60V94.50M482.20 105.60V93.00M485.40 105.60V92.50M487.80 105.60V94.00M489.40 105.60V95.50" stroke="#000" stroke-width="0.8" fill="none"/>
<polygon points="463.7,105.6 463.70,104.50 464.30,103.81 464.90,103.68 465.50,102.67 466.10,102.94 466.70,103.29 467.30,104.58 467.90,103.85 468.50,103.18 469.10,104.13 469.70,103.47 470.30,103.68 470.90,104.58 471.50,102.62 472.10,103.00 472.70,104.19 473.30,103.37 473.90,104.02 474.50,103.85 475.10,103.52 475.70,104.00 476.30,103.93 476.90,103.82 477.50,103.27 478.10,104.09 478.70,104.20 479.30,103.14 479.90,103.94 480.50,102.71 481.10,103.47 481.70,103.15 482.30,103.94 482.90,102.95 483.50,104.42 484.10,104.32 484.70,104.41 485.30,103.24 485.90,103.18 486.50,104.24 487.10,103.80 487.70,102.93 488.30,103.41 488.90,104.42 489.50,104.15 490.10,104.29 490.70,104.35 490.8,105.6" fill="#1a1a1a"/>
<rect x="96.0" y="131" width="1.00" height="10.00" fill="#8a8a8a"/>
<rect x="110.5" y="137.4" width="1.10" height="3.60" fill="#8a8a8a"/>
<rect x="113.9" y="138" width="1.10" height="3.00" fill="#8a8a8a"/>
<rect x="115.6" y="138.8" width="1.00" height="2.20" fill="#8a8a8a"/>
<rect x="118" y="137.4" width="1.00" height="3.60" fill="#8a8a8a"/>
<rect x="146.8" y="138" width="1.20" height="3.00" fill="#8a8a8a"/>
<rect x="149" y="137.4" width="1.20" height="3.60" fill="#8a8a8a"/>
<rect x="154.6" y="133" width="0.90" height="8.00" fill="#8a8a8a"/>
<rect x="155.5" y="129.9" width="1.00" height="11.10" fill="#8a8a8a"/>
<rect x="156.5" y="134.5" width="1.50" height="6.50" fill="#8a8a8a"/>
<rect x="162.1" y="138" width="0.60" height="3.00" fill="#8a8a8a"/>
<rect x="174.8" y="138" width="0.60" height="3.00" fill="#8a8a8a"/>
<rect x="180.6" y="135" width="1.40" height="6.00" fill="#8a8a8a"/>
<rect x="182.0" y="132.8" width="1.60" height="8.20" fill="#8a8a8a"/>
<rect x="183.6" y="135.5" width="1.00" height="5.50" fill="#8a8a8a"/>
<rect x="187.5" y="133.4" width="1.70" height="7.60" fill="#8a8a8a"/>
<rect x="197.3" y="138" width="2.20" height="3.00" fill="#8a8a8a"/>
<rect x="199.5" y="137" width="1.20" height="4.00" fill="#8a8a8a"/>
<rect x="200.7" y="136.8" width="1.20" height="4.20" fill="#8a8a8a"/>
<rect x="203.6" y="134.5" width="1.20" height="6.50" fill="#8a8a8a"/>
<rect x="210.3" y="139.5" width="0.70" height="1.50" fill="#8a8a8a"/>
<rect x="217.2" y="134" width="1.80" height="7.00" fill="#8a8a8a"/>
<rect x="220.1" y="127" width="2.30" height="14.00" fill="#8a8a8a"/>
<rect x="226.5" y="138" width="1.10" height="3.00" fill="#8a8a8a"/>
<rect x="234.5" y="139.5" width="0.70" height="1.50" fill="#8a8a8a"/>
<rect x="239.2" y="138.5" width="1.00" height="2.50" fill="#8a8a8a"/>
<rect x="241.4" y="129.3" width="2.40" height="11.70" fill="#8a8a8a"/>
<rect x="246.2" y="137.4" width="0.80" height="3.60" fill="#8a8a8a"/>
<rect x="250.1" y="125.9" width="1.70" height="15.10" fill="#8a8a8a"/>
<rect x="256.4" y="137.4" width="2.30" height="3.60" fill="#8a8a8a"/>
<rect x="260" y="139.5" width="1.00" height="1.50" fill="#8a8a8a"/>
<rect x="277" y="136.3" width="1.70" height="4.70" fill="#8a8a8a"/>
<rect x="287.3" y="132.8" width="2.30" height="8.20" fill="#8a8a8a"/>
<rect x="289.6" y="136.3" width="4.70" height="4.70" fill="#8a8a8a"/>
<rect x="294.8" y="137.5" width="1.20" height="3.50" fill="#8a8a8a"/>
<rect x="301.8" y="137" width="1.10" height="4.00" fill="#8a8a8a"/>
<rect x="304" y="131.6" width="2.40" height="9.40" fill="#8a8a8a"/>
<rect x="313.3" y="139.2" width="1.20" height="1.80" fill="#8a8a8a"/>
<rect x="326.9" y="134.5" width="1.10" height="6.50" fill="#8a8a8a"/>
<rect x="331" y="136.5" width="0.90" height="4.50" fill="#8a8a8a"/>
<rect x="331.9" y="130.5" width="0.80" height="10.50" fill="#8a8a8a"/>
<rect x="332.7" y="137" width="0.90" height="4.00" fill="#8a8a8a"/>
<rect x="340.7" y="136.5" width="1.10" height="4.50" fill="#8a8a8a"/>
<rect x="341.8" y="134.5" width="1.80" height="6.50" fill="#8a8a8a"/>
<rect x="348.8" y="126.5" width="1.70" height="14.50" fill="#8a8a8a"/>
<rect x="360.9" y="135.7" width="1.70" height="5.30" fill="#8a8a8a"/>
<rect x="369.6" y="138" width="3.40" height="3.00" fill="#8a8a8a"/>
<rect x="378.2" y="137.5" width="1.80" height="3.50" fill="#8a8a8a"/>
<rect x="386.6" y="132.8" width="1.70" height="8.20" fill="#8a8a8a"/>
<rect x="390.7" y="132.3" width="1.10" height="8.70" fill="#8a8a8a"/>
<rect x="393.5" y="131" width="1.10" height="10.00" fill="#8a8a8a"/>
<rect x="394.6" y="128.8" width="1.20" height="12.20" fill="#8a8a8a"/>
<rect x="398.7" y="132.8" width="2.30" height="8.20" fill="#8a8a8a"/>
<rect x="401.8" y="136.3" width="1.20" height="4.70" fill="#8a8a8a"/>
<rect x="403.9" y="136.3" width="1.70" height="4.70" fill="#8a8a8a"/>
<rect x="415.4" y="129.9" width="1.80" height="11.10" fill="#8a8a8a"/>
<rect x="434.5" y="132.8" width="1.70" height="8.20" fill="#8a8a8a"/>
<rect x="439.1" y="132.2" width="1.70" height="8.80" fill="#8a8a8a"/>
<rect x="440.8" y="136.5" width="0.80" height="4.50" fill="#8a8a8a"/>
<rect x="449.8" y="133.4" width="1.20" height="7.60" fill="#8a8a8a"/>
<rect x="455" y="138" width="1.20" height="3.00" fill="#8a8a8a"/>
<rect x="463.1" y="136.3" width="1.20" height="4.70" fill="#8a8a8a"/>
<rect x="466.6" y="135" width="1.10" height="6.00" fill="#8a8a8a"/>
<rect x="471.2" y="122.4" width="1.70" height="18.60" fill="#8a8a8a"/>
<polygon points="120.0,141 120.0,136.5 121.0,136.0 121.8,133.5 122.4,128 123.0,120 123.6,114 124.2,111.2 124.8,110.3 125.3,111.0 125.8,114.0 126.4,113.8 127.1,113.4 127.7,114.4 128.3,116.5 128.9,121 129.4,128 129.9,134 130.3,141" fill="#a3a3a3"/>
<polygon points="132.0,141 132.0,137.6 133.4,137.0 134.6,136.4 135.5,135.0 136.3,132.5 137.0,129.5 137.8,128.0 138.5,127.0 139.1,129 139.7,125.0 140.3,123.0 140.8,126 141.3,131.5 141.9,135 142.5,141" fill="#a3a3a3"/>
<polygon points="472.6,141 472.6,136 473.3,134.5 473.9,136.5 474.5,133.5 475.1,135.5 475.7,132.8 476.3,134.8 476.9,131.5 477.5,133.5 478.1,130.0 478.7,132.0 479.3,129.5 479.9,131.8 480.4,126.5 480.9,129.5 481.4,121.5 481.9,124.5 482.4,118.5 482.9,121 483.4,114.0 483.8,116.5 484.2,113.5 484.7,118.5 485.2,116.0 485.7,124.5 486.2,121.0 486.7,127.5 487.2,125.5 487.7,131.5 488.2,129.5 488.8,134.5 489.3,133.5 489.8,138 490.3,141" fill="#a3a3a3"/>
<polygon points="123.2,141 123.2,118 123.7,113.5 124.3,111.5 124.8,110.3 125.3,111.2 125.8,114.2 126.5,114.5 127.2,114 127.8,115.5 128.4,119 128.9,130 129.2,141" fill="#7c7c7c"/>
<polygon points="137.2,141 137.2,131 137.8,128.5 138.5,127.5 139.1,129.5 139.7,125.5 140.3,123.2 140.8,126.5 141.2,132 141.5,141" fill="#7c7c7c"/>
<polygon points="480.6,141 480.6,128 481.4,122 482.4,119 483.4,114.5 484.2,114 485.0,118 485.7,124.5 486.5,127 487.2,141" fill="#7c7c7c"/>
<line x1="93.0" y1="141.0" x2="491.0" y2="141.0" stroke="#4a4a4a" stroke-width="1.7"/>
<line x1="93.0" y1="20.3" x2="491.0" y2="20.3" stroke="#444" stroke-width="1"/>
<line x1="491.0" y1="20.3" x2="491.0" y2="141.5" stroke="#555" stroke-width="1"/>
<line x1="93.0" y1="19.8" x2="93.0" y2="141.7" stroke="#555" stroke-width="1.2"/>
<line x1="93.00" y1="141.2" x2="93.00" y2="145.3" stroke="#333" stroke-width="0.9"/>
<text x="93.0" y="153.8" font-size="6.4" text-anchor="middle" fill="#222" stroke="#222" stroke-width="0.15" >121970001</text>
<line x1="159.35" y1="141.2" x2="159.35" y2="145.3" stroke="#333" stroke-width="0.9"/>
<text x="159.35" y="153.8" font-size="6.4" text-anchor="middle" fill="#222" stroke="#222" stroke-width="0.15" >121980001</text>
<line x1="225.70" y1="141.2" x2="225.70" y2="145.3" stroke="#333" stroke-width="0.9"/>
<text x="225.7" y="153.8" font-size="6.4" text-anchor="middle" fill="#222" stroke="#222" stroke-width="0.15" >121990001</text>
<line x1="292.05" y1="141.2" x2="292.05" y2="145.3" stroke="#333" stroke-width="0.9"/>
<text x="292.05" y="153.8" font-size="6.4" text-anchor="middle" fill="#222" stroke="#222" stroke-width="0.15" >122000001</text>
<line x1="358.40" y1="141.2" x2="358.40" y2="145.3" stroke="#333" stroke-width="0.9"/>
<text x="358.4" y="153.8" font-size="6.4" text-anchor="middle" fill="#222" stroke="#222" stroke-width="0.15" >122010001</text>
<line x1="424.75" y1="141.2" x2="424.75" y2="145.3" stroke="#333" stroke-width="0.9"/>
<text x="424.75" y="153.8" font-size="6.4" text-anchor="middle" fill="#222" stroke="#222" stroke-width="0.15" >122020001</text>
<line x1="491.10" y1="141.2" x2="491.10" y2="145.3" stroke="#333" stroke-width="0.9"/>
<text x="484.5" y="153.8" font-size="6.4" text-anchor="middle" fill="#222" stroke="#222" stroke-width="0.15" >122030001</text>
<text x="291.4" y="167.4" font-size="6.75" text-anchor="middle" fill="#222" stroke="#222" stroke-width="0.15" >Base Position, mouse chr8</text>
<text x="-0.7" y="189.5" font-size="11.6" text-anchor="start" fill="#111" font-weight="bold" >B</text>
<rect x="39.2" y="195.4" width="253.20" height="166.60" fill="none" stroke="#aaa" stroke-width="0.9"/>
<line x1="37.800000000000004" y1="324.05" x2="292.4" y2="324.05" stroke="#777" stroke-width="0.9"/>
<line x1="37.800000000000004" y1="286.10" x2="292.4" y2="286.10" stroke="#777" stroke-width="0.9"/>
<line x1="37.800000000000004" y1="248.15" x2="292.4" y2="248.15" stroke="#777" stroke-width="0.9"/>
<line x1="37.800000000000004" y1="210.20" x2="292.4" y2="210.20" stroke="#777" stroke-width="0.9"/>
<text x="33.4" y="365.0" font-size="8.3" text-anchor="end" fill="#222" stroke="#222" stroke-width="0.15" >0</text>
<text x="33.4" y="327.05" font-size="8.3" text-anchor="end" fill="#222" stroke="#222" stroke-width="0.15" >0.005</text>
<text x="33.4" y="289.1" font-size="8.3" text-anchor="end" fill="#222" stroke="#222" stroke-width="0.15" >0.01</text>
<text x="33.4" y="251.15" font-size="8.3" text-anchor="end" fill="#222" stroke="#222" stroke-width="0.15" >0.015</text>
<text x="33.4" y="213.2" font-size="8.3" text-anchor="end" fill="#222" stroke="#222" stroke-width="0.15" >0.02</text>
<text transform="translate(7.2,311) rotate(-90)" font-size="9" font-weight="bold" fill="#111">Fraction of Input</text>
<text x="61.9" y="226.3" font-size="7.3" text-anchor="middle" fill="#222" stroke="#222" stroke-width="0.15" >Beta globin</text>
<text x="61.9" y="234.7" font-size="7.3" text-anchor="middle" fill="#222" stroke="#222" stroke-width="0.15" >HS3</text>
<line x1="43.0" y1="238.3" x2="95.8" y2="238.3" stroke="#111" stroke-width="1.8"/>
<text x="132.0" y="226.3" font-size="7.3" text-anchor="middle" fill="#222" stroke="#222" stroke-width="0.15" >FOG locus</text>
<text x="132.0" y="234.7" font-size="7.3" text-anchor="middle" fill="#222" stroke="#222" stroke-width="0.15" >CRM1</text>
<line x1="106.1" y1="238.3" x2="158.9" y2="238.3" stroke="#111" stroke-width="1.8"/>
<text x="199.8" y="226.3" font-size="7.3" text-anchor="middle" fill="#222" stroke="#222" stroke-width="0.15" >FOG locus</text>
<text x="199.8" y="234.7" font-size="7.3" text-anchor="middle" fill="#222" stroke="#222" stroke-width="0.15" >CRM4</text>
<line x1="171.1" y1="238.3" x2="223.9" y2="238.3" stroke="#111" stroke-width="1.8"/>
<text x="262.0" y="226.3" font-size="7.3" text-anchor="middle" fill="#222" stroke="#222" stroke-width="0.15" >FOG locus</text>
<text x="262.0" y="234.7" font-size="7.3" text-anchor="middle" fill="#222" stroke="#222" stroke-width="0.15" >Upstream</text>
<line x1="237.2" y1="238.3" x2="290.3" y2="238.3" stroke="#111" stroke-width="1.8"/>
<rect x="42.90" y="358.58" width="4.2" height="3.42" fill="#fff" stroke="#777" stroke-width="0.7"/>
<rect x="47.20" y="287.62" width="4.9" height="74.38" fill="#5a5a5a"/>
<rect x="56.90" y="360.10" width="4.2" height="1.90" fill="#fff" stroke="#777" stroke-width="0.7"/>
<rect x="61.20" y="360.48" width="4.9" height="1.52" fill="#5a5a5a"/>
<rect x="70.90" y="356.31" width="4.2" height="5.69" fill="#fff" stroke="#777" stroke-width="0.7"/>
<rect x="75.20" y="290.65" width="4.9" height="71.35" fill="#5a5a5a"/>
<rect x="84.90" y="361.47" width="4.2" height="0.53" fill="#fff" stroke="#777" stroke-width="0.7"/>
<rect x="89.20" y="360.86" width="4.9" height="1.14" fill="#5a5a5a"/>
<text x="47.3" y="370.2" font-size="6.6" text-anchor="middle" fill="#222" stroke="#222" stroke-width="0.15" >G-1</text>
<text x="61.9" y="370.2" font-size="6.6" text-anchor="middle" fill="#222" stroke="#222" stroke-width="0.15" >rIgG</text>
<text x="75.6" y="370.2" font-size="6.6" text-anchor="middle" fill="#222" stroke="#222" stroke-width="0.15" >ER</text>
<text x="90.9" y="370.2" font-size="6.6" text-anchor="middle" fill="#222" stroke="#222" stroke-width="0.15" >mIgG</text>
<rect x="107.80" y="352.89" width="4.2" height="9.11" fill="#fff" stroke="#777" stroke-width="0.7"/>
<rect x="112.10" y="254.98" width="4.9" height="107.02" fill="#5a5a5a"/>
<rect x="121.80" y="360.86" width="4.2" height="1.14" fill="#fff" stroke="#777" stroke-width="0.7"/>
<rect x="126.10" y="360.86" width="4.9" height="1.14" fill="#5a5a5a"/>
<rect x="135.80" y="346.06" width="4.2" height="15.94" fill="#fff" stroke="#777" stroke-width="0.7"/>
<rect x="140.10" y="240.56" width="4.9" height="121.44" fill="#5a5a5a"/>
<rect x="149.80" y="360.33" width="4.2" height="1.67" fill="#fff" stroke="#777" stroke-width="0.7"/>
<rect x="154.10" y="359.72" width="4.9" height="2.28" fill="#5a5a5a"/>
<text x="112.2" y="370.2" font-size="6.6" text-anchor="middle" fill="#222" stroke="#222" stroke-width="0.15" >G-1</text>
<text x="126.8" y="370.2" font-size="6.6" text-anchor="middle" fill="#222" stroke="#222" stroke-width="0.15" >rIgG</text>
<text x="140.5" y="370.2" font-size="6.6" text-anchor="middle" fill="#222" stroke="#222" stroke-width="0.15" >ER</text>
<text x="155.8" y="370.2" font-size="6.6" text-anchor="middle" fill="#222" stroke="#222" stroke-width="0.15" >mIgG</text>
<rect x="172.80" y="348.34" width="4.2" height="13.66" fill="#fff" stroke="#777" stroke-width="0.7"/>
<rect x="177.10" y="286.10" width="4.9" height="75.90" fill="#5a5a5a"/>
<rect x="186.80" y="359.34" width="4.2" height="2.66" fill="#fff" stroke="#777" stroke-width="0.7"/>
<rect x="191.10" y="360.63" width="4.9" height="1.37" fill="#5a5a5a"/>
<rect x="200.80" y="344.16" width="4.2" height="17.84" fill="#fff" stroke="#777" stroke-width="0.7"/>
<rect x="205.10" y="276.23" width="4.9" height="85.77" fill="#5a5a5a"/>
<rect x="214.80" y="360.86" width="4.2" height="1.14" fill="#fff" stroke="#777" stroke-width="0.7"/>
<rect x="219.10" y="359.72" width="4.9" height="2.28" fill="#5a5a5a"/>
<text x="177.2" y="370.2" font-size="6.6" text-anchor="middle" fill="#222" stroke="#222" stroke-width="0.15" >G-1</text>
<text x="191.8" y="370.2" font-size="6.6" text-anchor="middle" fill="#222" stroke="#222" stroke-width="0.15" >rIgG</text>
<text x="205.5" y="370.2" font-size="6.6" text-anchor="middle" fill="#222" stroke="#222" stroke-width="0.15" >ER</text>
<text x="220.8" y="370.2" font-size="6.6" text-anchor="middle" fill="#222" stroke="#222" stroke-width="0.15" >mIgG</text>
<rect x="237.90" y="358.96" width="4.2" height="3.04" fill="#fff" stroke="#777" stroke-width="0.7"/>
<rect x="242.20" y="358.96" width="4.9" height="3.04" fill="#5a5a5a"/>
<rect x="251.90" y="359.72" width="4.2" height="2.28" fill="#fff" stroke="#777" stroke-width="0.7"/>
<rect x="256.20" y="358.96" width="4.9" height="3.04" fill="#5a5a5a"/>
<rect x="265.90" y="359.34" width="4.2" height="2.66" fill="#fff" stroke="#777" stroke-width="0.7"/>
<rect x="270.20" y="358.20" width="4.9" height="3.80" fill="#5a5a5a"/>
<rect x="279.90" y="360.86" width="4.2" height="1.14" fill="#fff" stroke="#777" stroke-width="0.7"/>
<rect x="284.20" y="359.72" width="4.9" height="2.28" fill="#5a5a5a"/>
<text x="242.3" y="370.2" font-size="6.6" text-anchor="middle" fill="#222" stroke="#222" stroke-width="0.15" >G-1</text>
<text x="256.9" y="370.2" font-size="6.6" text-anchor="middle" fill="#222" stroke="#222" stroke-width="0.15" >rIgG</text>
<text x="270.6" y="370.2" font-size="6.6" text-anchor="middle" fill="#222" stroke="#222" stroke-width="0.15" >ER</text>
<text x="285.9" y="370.2" font-size="6.6" text-anchor="middle" fill="#222" stroke="#222" stroke-width="0.15" >mIgG</text>
<line x1="39.2" y1="362.0" x2="292.4" y2="362.0" stroke="#333" stroke-width="1"/>
<rect x="235.6" y="258.3" width="5.6" height="4.6" fill="#fff" stroke="#777" stroke-width="0.7"/>
<rect x="235.3" y="266.8" width="6.2" height="4.8" fill="#5a5a5a"/>
<text x="244.6" y="262.9" font-size="6.6" text-anchor="start" fill="#222" stroke="#222" stroke-width="0.15" >G1E</text>
<text x="244.6" y="271.6" font-size="6.55" text-anchor="start" fill="#222" stroke="#222" stroke-width="0.15" >G1E + Estradiol</text>
<text x="305.8" y="189.4" font-size="11.7" text-anchor="start" fill="#111" font-weight="bold" >C</text>
<rect x="325.6" y="195.3" width="96.00" height="90.70" fill="none" stroke="#bbb" stroke-width="0.9"/>
<line x1="325.6" y1="267.86" x2="421.6" y2="267.86" stroke="#ddd" stroke-width="0.8"/>
<line x1="325.6" y1="249.72" x2="421.6" y2="249.72" stroke="#ddd" stroke-width="0.8"/>
<line x1="325.6" y1="231.58" x2="421.6" y2="231.58" stroke="#ddd" stroke-width="0.8"/>
<line x1="325.6" y1="213.44" x2="421.6" y2="213.44" stroke="#ddd" stroke-width="0.8"/>
<line x1="373.6" y1="195.3" x2="373.6" y2="286.0" stroke="#ddd" stroke-width="0.8"/>
<text x="323.2" y="270.16" font-size="6.4" text-anchor="end" fill="#222" stroke="#222" stroke-width="0.15" >2</text>
<text x="323.2" y="252.02" font-size="6.4" text-anchor="end" fill="#222" stroke="#222" stroke-width="0.15" >4</text>
<text x="323.2" y="233.88" font-size="6.4" text-anchor="end" fill="#222" stroke="#222" stroke-width="0.15" >6</text>
<text x="323.2" y="215.74" font-size="6.4" text-anchor="end" fill="#222" stroke="#222" stroke-width="0.15" >8</text>
<text x="323.2" y="197.6" font-size="6.4" text-anchor="end" fill="#222" stroke="#222" stroke-width="0.15" >10</text>
<text transform="translate(312.0,269.8) rotate(-90)" font-size="7.2" fill="#222">Normalized FF/Luc</text>
<rect x="330.2" y="276.48" width="19.2" height="9.52" fill="#dcdcdc" stroke="#999" stroke-width="0.5"/>
<rect x="349.0" y="231.58" width="19.2" height="54.42" fill="#ababab" stroke="#999" stroke-width="0.5"/>
<rect x="377.5" y="276.48" width="19.2" height="9.52" fill="#dcdcdc" stroke="#999" stroke-width="0.5"/>
<rect x="396.9" y="211.63" width="19.2" height="74.37" fill="#ababab" stroke="#999" stroke-width="0.5"/>
<line x1="339.7" y1="272.85" x2="339.7" y2="279.20" stroke="#333" stroke-width="0.8"/>
<line x1="358.7" y1="214.35" x2="358.7" y2="247.91" stroke="#333" stroke-width="0.8"/>
<line x1="387.3" y1="272.85" x2="387.3" y2="279.20" stroke="#333" stroke-width="0.8"/>
<line x1="406.6" y1="202.56" x2="406.6" y2="220.70" stroke="#333" stroke-width="0.8"/>
<line x1="325.6" y1="286.0" x2="421.6" y2="286.0" stroke="#999" stroke-width="0.9"/>
<rect x="328.3" y="197.2" width="50.8" height="13.8" fill="#fff" stroke="#111" stroke-width="0.8"/>
<line x1="328.3" y1="197.2" x2="328.3" y2="211.2" stroke="#111" stroke-width="1.3"/>
<line x1="328.6" y1="211.3" x2="379.6" y2="211.3" stroke="#111" stroke-width="1.5"/>
<line x1="379.3" y1="197.4" x2="379.3" y2="211.9" stroke="#111" stroke-width="1.5"/>
<rect x="334.9" y="199.4" width="3.9" height="4.3" fill="#dcdcdc" stroke="#b5b5b5" stroke-width="0.4"/>
<rect x="334.9" y="204.5" width="3.9" height="4.0" fill="#ababab" stroke="#999" stroke-width="0.4"/>
<text x="342.9" y="203.5" font-size="5.3" text-anchor="start" fill="#222" stroke="#222" stroke-width="0.15" >gammaLuc</text>
<text x="342.9" y="208.6" font-size="5.2" text-anchor="start" fill="#222" stroke="#222" stroke-width="0.15" >R1gammaLuc</text>
<text x="348.2" y="293.4" font-size="6.9" text-anchor="middle" fill="#222" stroke="#222" stroke-width="0.15" >1</text>
<text x="395.9" y="293.4" font-size="6.9" text-anchor="middle" fill="#222" stroke="#222" stroke-width="0.15" >2</text>
<text x="373.4" y="303.1" font-size="7.2" text-anchor="middle" fill="#222" stroke="#222" stroke-width="0.15" >Experiment</text>
<text x="446.4" y="189.4" font-size="11.7" text-anchor="start" fill="#111" font-weight="bold" >D</text>
<text x="461.0" y="213.7" font-size="11.6" text-anchor="start" fill="#111" stroke="#111" stroke-width="0.15" letter-spacing="0.45">GATA1</text>
<text x="465.8" y="249.9" font-size="11.5" text-anchor="start" fill="#111" stroke="#111" stroke-width="0.15" letter-spacing="0.1">Fog1</text>
<text x="446.0" y="288.2" font-size="12.1" text-anchor="start" fill="#111" stroke="#111" stroke-width="0.15" ><tspan font-family="Liberation Serif, serif" font-size="12.5">&#946;</tspan> major globin</text>
<polyline points="500.2,209.8 511.4,209.8 511.4,272" fill="none" stroke="#333" stroke-width="0.9"/>
<line x1="478.0" y1="219.4" x2="478.0" y2="233" stroke="#333" stroke-width="0.9"/>
<polygon points="475.9,232.3 480.1,232.3 478.0,236.6" fill="#111"/>
<line x1="478.1" y1="258.6" x2="478.1" y2="271.5" stroke="#333" stroke-width="0.9"/>
<polygon points="476.0,270.9 480.2,270.9 478.1,275.1" fill="#111"/>
<polygon points="509.3,271.0 513.5,271.0 511.4,275.2" fill="#111"/>
</svg>
</body></html>
